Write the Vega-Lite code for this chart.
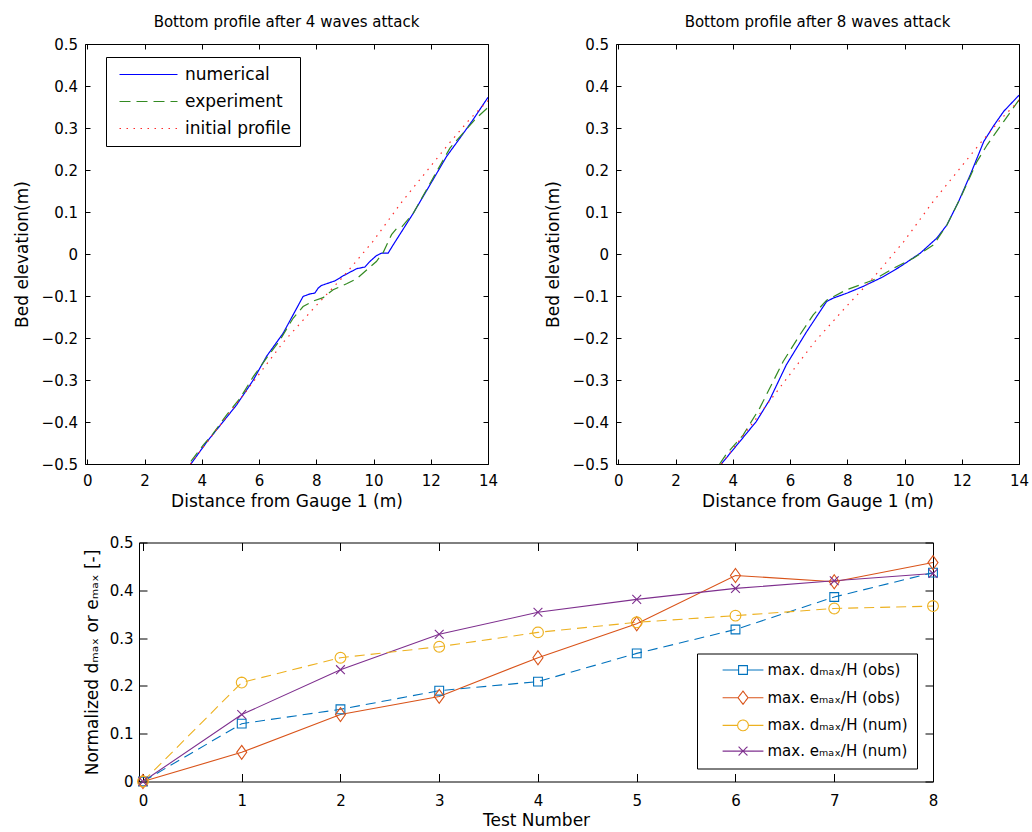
{
  "$schema": "https://vega.github.io/schema/vega-lite/v6.json",
  "padding": {"left": 12, "top": 14, "right": 5, "bottom": 5},
  "spacing": 24.5,
  "datasets": {
    "waves4": [
      {"x": 3.62, "y": -0.5, "series": "numerical"},
      {"x": 4.17, "y": -0.448, "series": "numerical"},
      {"x": 4.75, "y": -0.399, "series": "numerical"},
      {"x": 5.22, "y": -0.359, "series": "numerical"},
      {"x": 5.8, "y": -0.3, "series": "numerical"},
      {"x": 6.26, "y": -0.244, "series": "numerical"},
      {"x": 6.84, "y": -0.189, "series": "numerical"},
      {"x": 7.19, "y": -0.145, "series": "numerical"},
      {"x": 7.54, "y": -0.101, "series": "numerical"},
      {"x": 7.78, "y": -0.095, "series": "numerical"},
      {"x": 7.95, "y": -0.093, "series": "numerical"},
      {"x": 8.07, "y": -0.081, "series": "numerical"},
      {"x": 8.18, "y": -0.075, "series": "numerical"},
      {"x": 8.65, "y": -0.064, "series": "numerical"},
      {"x": 8.94, "y": -0.052, "series": "numerical"},
      {"x": 9.41, "y": -0.035, "series": "numerical"},
      {"x": 9.7, "y": -0.031, "series": "numerical"},
      {"x": 9.87, "y": -0.018, "series": "numerical"},
      {"x": 10.1, "y": -0.004, "series": "numerical"},
      {"x": 10.28, "y": 0.002, "series": "numerical"},
      {"x": 10.51, "y": 0.002, "series": "numerical"},
      {"x": 10.69, "y": 0.022, "series": "numerical"},
      {"x": 11.39, "y": 0.097, "series": "numerical"},
      {"x": 12.08, "y": 0.177, "series": "numerical"},
      {"x": 12.55, "y": 0.232, "series": "numerical"},
      {"x": 13.02, "y": 0.276, "series": "numerical"},
      {"x": 13.48, "y": 0.32, "series": "numerical"},
      {"x": 14.0, "y": 0.373, "series": "numerical"},
      {"x": 3.62, "y": -0.494, "series": "experiment"},
      {"x": 4.05, "y": -0.455, "series": "experiment"},
      {"x": 4.4, "y": -0.427, "series": "experiment"},
      {"x": 4.87, "y": -0.383, "series": "experiment"},
      {"x": 5.33, "y": -0.344, "series": "experiment"},
      {"x": 5.8, "y": -0.292, "series": "experiment"},
      {"x": 6.26, "y": -0.248, "series": "experiment"},
      {"x": 6.73, "y": -0.205, "series": "experiment"},
      {"x": 7.19, "y": -0.153, "series": "experiment"},
      {"x": 7.54, "y": -0.125, "series": "experiment"},
      {"x": 7.89, "y": -0.112, "series": "experiment"},
      {"x": 8.24, "y": -0.104, "series": "experiment"},
      {"x": 8.59, "y": -0.085, "series": "experiment"},
      {"x": 9.06, "y": -0.071, "series": "experiment"},
      {"x": 9.41, "y": -0.059, "series": "experiment"},
      {"x": 9.76, "y": -0.038, "series": "experiment"},
      {"x": 10.1, "y": -0.018, "series": "experiment"},
      {"x": 10.34, "y": 0.004, "series": "experiment"},
      {"x": 10.63, "y": 0.046, "series": "experiment"},
      {"x": 10.8, "y": 0.06, "series": "experiment"},
      {"x": 10.98, "y": 0.064, "series": "experiment"},
      {"x": 11.39, "y": 0.097, "series": "experiment"},
      {"x": 12.08, "y": 0.181, "series": "experiment"},
      {"x": 12.67, "y": 0.252, "series": "experiment"},
      {"x": 13.13, "y": 0.288, "series": "experiment"},
      {"x": 13.6, "y": 0.324, "series": "experiment"},
      {"x": 14.0, "y": 0.349, "series": "experiment"},
      {"x": 3.6, "y": -0.5, "series": "initial profile"},
      {"x": 5.4, "y": -0.34, "series": "initial profile"},
      {"x": 6.85, "y": -0.21, "series": "initial profile"},
      {"x": 7.9, "y": -0.13, "series": "initial profile"},
      {"x": 8.94, "y": -0.054, "series": "initial profile"},
      {"x": 9.98, "y": 0.03, "series": "initial profile"},
      {"x": 11.0, "y": 0.125, "series": "initial profile"},
      {"x": 11.95, "y": 0.205, "series": "initial profile"},
      {"x": 12.6, "y": 0.26, "series": "initial profile"},
      {"x": 13.35, "y": 0.32, "series": "initial profile"},
      {"x": 14.0, "y": 0.365, "series": "initial profile"}
    ],
    "waves8": [
      {"x": 3.6, "y": -0.5, "series": "numerical"},
      {"x": 4.24, "y": -0.447, "series": "numerical"},
      {"x": 4.82, "y": -0.399, "series": "numerical"},
      {"x": 5.29, "y": -0.347, "series": "numerical"},
      {"x": 5.87, "y": -0.264, "series": "numerical"},
      {"x": 6.58, "y": -0.185, "series": "numerical"},
      {"x": 7.28, "y": -0.113, "series": "numerical"},
      {"x": 7.51, "y": -0.105, "series": "numerical"},
      {"x": 8.0, "y": -0.093, "series": "numerical"},
      {"x": 8.56, "y": -0.077, "series": "numerical"},
      {"x": 9.26, "y": -0.054, "series": "numerical"},
      {"x": 9.85, "y": -0.03, "series": "numerical"},
      {"x": 10.55, "y": 0.002, "series": "numerical"},
      {"x": 11.13, "y": 0.038, "series": "numerical"},
      {"x": 11.48, "y": 0.069, "series": "numerical"},
      {"x": 11.89, "y": 0.125, "series": "numerical"},
      {"x": 12.3, "y": 0.189, "series": "numerical"},
      {"x": 12.77, "y": 0.268, "series": "numerical"},
      {"x": 13.12, "y": 0.306, "series": "numerical"},
      {"x": 13.47, "y": 0.34, "series": "numerical"},
      {"x": 14.0, "y": 0.378, "series": "numerical"},
      {"x": 3.54, "y": -0.5, "series": "experiment"},
      {"x": 3.77, "y": -0.477, "series": "experiment"},
      {"x": 4.36, "y": -0.431, "series": "experiment"},
      {"x": 4.94, "y": -0.367, "series": "experiment"},
      {"x": 5.76, "y": -0.256, "series": "experiment"},
      {"x": 6.34, "y": -0.193, "series": "experiment"},
      {"x": 6.81, "y": -0.145, "series": "experiment"},
      {"x": 7.28, "y": -0.11, "series": "experiment"},
      {"x": 7.98, "y": -0.085, "series": "experiment"},
      {"x": 8.91, "y": -0.062, "series": "experiment"},
      {"x": 9.61, "y": -0.034, "series": "experiment"},
      {"x": 10.31, "y": -0.01, "series": "experiment"},
      {"x": 11.02, "y": 0.022, "series": "experiment"},
      {"x": 11.48, "y": 0.069, "series": "experiment"},
      {"x": 11.95, "y": 0.133, "series": "experiment"},
      {"x": 12.53, "y": 0.22, "series": "experiment"},
      {"x": 12.89, "y": 0.26, "series": "experiment"},
      {"x": 13.47, "y": 0.316, "series": "experiment"},
      {"x": 14.0, "y": 0.367, "series": "experiment"},
      {"x": 3.6, "y": -0.5, "series": "initial profile"},
      {"x": 5.4, "y": -0.34, "series": "initial profile"},
      {"x": 6.85, "y": -0.21, "series": "initial profile"},
      {"x": 7.9, "y": -0.13, "series": "initial profile"},
      {"x": 8.94, "y": -0.054, "series": "initial profile"},
      {"x": 9.98, "y": 0.03, "series": "initial profile"},
      {"x": 11.0, "y": 0.125, "series": "initial profile"},
      {"x": 11.95, "y": 0.205, "series": "initial profile"},
      {"x": 12.6, "y": 0.26, "series": "initial profile"},
      {"x": 13.35, "y": 0.32, "series": "initial profile"},
      {"x": 14.0, "y": 0.365, "series": "initial profile"}
    ],
    "tests": [
      {"test": 0, "value": 0, "series": "dobs"},
      {"test": 1, "value": 0.121, "series": "dobs"},
      {"test": 2, "value": 0.151, "series": "dobs"},
      {"test": 3, "value": 0.19, "series": "dobs"},
      {"test": 4, "value": 0.209, "series": "dobs"},
      {"test": 5, "value": 0.268, "series": "dobs"},
      {"test": 6, "value": 0.318, "series": "dobs"},
      {"test": 7, "value": 0.386, "series": "dobs"},
      {"test": 8, "value": 0.437, "series": "dobs"},
      {"test": 0, "value": 0, "series": "eobs"},
      {"test": 1, "value": 0.061, "series": "eobs"},
      {"test": 2, "value": 0.14, "series": "eobs"},
      {"test": 3, "value": 0.178, "series": "eobs"},
      {"test": 4, "value": 0.259, "series": "eobs"},
      {"test": 5, "value": 0.33, "series": "eobs"},
      {"test": 6, "value": 0.431, "series": "eobs"},
      {"test": 7, "value": 0.418, "series": "eobs"},
      {"test": 8, "value": 0.458, "series": "eobs"},
      {"test": 0, "value": 0, "series": "dnum"},
      {"test": 1, "value": 0.207, "series": "dnum"},
      {"test": 2, "value": 0.259, "series": "dnum"},
      {"test": 3, "value": 0.282, "series": "dnum"},
      {"test": 4, "value": 0.312, "series": "dnum"},
      {"test": 5, "value": 0.333, "series": "dnum"},
      {"test": 6, "value": 0.347, "series": "dnum"},
      {"test": 7, "value": 0.362, "series": "dnum"},
      {"test": 8, "value": 0.367, "series": "dnum"},
      {"test": 0, "value": 0, "series": "enum"},
      {"test": 1, "value": 0.14, "series": "enum"},
      {"test": 2, "value": 0.234, "series": "enum"},
      {"test": 3, "value": 0.308, "series": "enum"},
      {"test": 4, "value": 0.354, "series": "enum"},
      {"test": 5, "value": 0.381, "series": "enum"},
      {"test": 6, "value": 0.404, "series": "enum"},
      {"test": 7, "value": 0.42, "series": "enum"},
      {"test": 8, "value": 0.435, "series": "enum"}
    ]
  },
  "vconcat": [
    {
      "hconcat": [
        {
          "width": 403,
          "height": 420,
          "title": {"text": "Bottom profile after 4 waves attack", "offset": 7},
          "data": {"name": "waves4"},
          "layer": [
            {
              "mark": {"type": "line", "strokeWidth": 1.2, "clip": true},
              "encoding": {
                "x": {"field": "x", "type": "quantitative", "scale": {"domain": [-0.08, 14], "nice": false, "zero": false},
                  "axis": {"orient": "bottom", "values": [0, 2, 4, 6, 8, 10, 12, 14], "title": "Distance from Gauge 1 (m)", "tickSize": -5, "labelPadding": 14, "titlePadding": 5}},
                "y": {"field": "y", "type": "quantitative", "scale": {"domain": [-0.5, 0.5], "nice": false, "zero": false},
                  "axis": {"orient": "left", "values": [-0.5, -0.4, -0.3, -0.2, -0.1, 0, 0.1, 0.2, 0.3, 0.4, 0.5], "format": ".1~f", "title": "Bed elevation(m)", "tickSize": -5, "labelPadding": 12.5, "titlePadding": 10}},
                "color": {"field": "series", "type": "nominal",
                  "scale": {"domain": ["numerical", "experiment", "initial profile"], "range": ["#0000ff", "#338a22", "#ff2a2a"]},
                  "legend": {"orient": "none", "legendX": 21, "legendY": 13, "title": null, "symbolType": "M-5.8,0L5.8,0", "symbolSize": 100, "symbolStrokeWidth": 1.2, "symbolOffset": 25, "labelOffset": 28, "labelFontSize": 17, "labelFont": "DejaVu Sans", "labelColor": "black", "padding": 9, "rowPadding": 9, "strokeColor": "black", "fillColor": "white"}},
                "strokeDash": {"field": "series", "type": "nominal",
                  "scale": {"domain": ["numerical", "experiment", "initial profile"], "range": [[1, 0], [11, 6], [1.5, 5.5]]}}
              }
            },
            {
              "mark": {"type": "line", "opacity": 0},
              "encoding": {
                "x": {"field": "x", "type": "quantitative", "axis": {"orient": "top", "values": [0, 2, 4, 6, 8, 10, 12, 14], "labels": false, "title": null, "tickSize": -5}},
                "y": {"field": "y", "type": "quantitative", "axis": {"orient": "right", "values": [-0.5, -0.4, -0.3, -0.2, -0.1, 0, 0.1, 0.2, 0.3, 0.4, 0.5], "labels": false, "title": null, "tickSize": -5}}
              }
            }
          ],
          "resolve": {"axis": {"x": "independent", "y": "independent"}}
        },
        {
          "width": 403,
          "height": 420,
          "title": {"text": "Bottom profile after 8 waves attack", "offset": 7},
          "data": {"name": "waves8"},
          "layer": [
            {
              "mark": {"type": "line", "strokeWidth": 1.2, "clip": true},
              "encoding": {
                "x": {"field": "x", "type": "quantitative", "scale": {"domain": [-0.08, 14], "nice": false, "zero": false},
                  "axis": {"orient": "bottom", "values": [0, 2, 4, 6, 8, 10, 12, 14], "title": "Distance from Gauge 1 (m)", "tickSize": -5, "labelPadding": 14, "titlePadding": 5}},
                "y": {"field": "y", "type": "quantitative", "scale": {"domain": [-0.5, 0.5], "nice": false, "zero": false},
                  "axis": {"orient": "left", "values": [-0.5, -0.4, -0.3, -0.2, -0.1, 0, 0.1, 0.2, 0.3, 0.4, 0.5], "format": ".1~f", "title": "Bed elevation(m)", "tickSize": -5, "labelPadding": 12.5, "titlePadding": 10}},
                "color": {"field": "series", "type": "nominal",
                  "scale": {"domain": ["numerical", "experiment", "initial profile"], "range": ["#0000ff", "#338a22", "#ff2a2a"]},
                  "legend": null},
                "strokeDash": {"field": "series", "type": "nominal",
                  "scale": {"domain": ["numerical", "experiment", "initial profile"], "range": [[1, 0], [11, 6], [1.5, 5.5]]},
                  "legend": null}
              }
            },
            {
              "mark": {"type": "line", "opacity": 0},
              "encoding": {
                "x": {"field": "x", "type": "quantitative", "axis": {"orient": "top", "values": [0, 2, 4, 6, 8, 10, 12, 14], "labels": false, "title": null, "tickSize": -5}},
                "y": {"field": "y", "type": "quantitative", "axis": {"orient": "right", "values": [-0.5, -0.4, -0.3, -0.2, -0.1, 0, 0.1, 0.2, 0.3, 0.4, 0.5], "labels": false, "title": null, "tickSize": -5}}
              }
            }
          ],
          "resolve": {"axis": {"x": "independent", "y": "independent"}}
        }
      ],
      "spacing": 128,
      "bounds": "flush",
      "resolve": {"scale": {"color": "independent", "strokeDash": "independent"}}
    },
    {
      "hconcat": [
        {
          "width": 44,
          "height": 10,
          "view": {"stroke": null},
          "data": {"values": []},
          "mark": "text",
          "encoding": {}
        },
        {
          "width": 794,
          "height": 239,
          "data": {"name": "tests"},
          "layer": [
            {
              "transform": [{"filter": {"field": "series", "oneOf": ["eobs", "enum"]}}],
              "mark": {"type": "line", "strokeWidth": 1.1},
              "encoding": {
                "x": {"field": "test", "type": "quantitative", "scale": {"domain": [-0.04, 8], "nice": false, "zero": false},
                  "axis": {"orient": "bottom", "values": [0, 1, 2, 3, 4, 5, 6, 7, 8], "title": "Test Number", "tickSize": -8, "labelPadding": 20, "titlePadding": 4}},
                "y": {"field": "value", "type": "quantitative", "scale": {"domain": [0, 0.5], "nice": false},
                  "axis": {"orient": "left", "values": [0, 0.1, 0.2, 0.3, 0.4, 0.5], "format": ".1~f", "title": "Normalized dₘₐₓ or eₘₐₓ [-]", "tickSize": -8, "labelPadding": 14, "titlePadding": 8}},
                "color": {"field": "series", "type": "nominal",
                  "scale": {"domain": ["dobs", "eobs", "dnum", "enum"], "range": ["#0072BD", "#D95319", "#EDB120", "#7E2F8E"]},
                  "legend": {"orient": "none", "legendX": 558, "legendY": 111, "title": null,
                    "labelExpr": "datum.value == 'dobs' ? 'max. dₘₐₓ/H (obs)\u00a0\u00a0\u00a0' : datum.value == 'eobs' ? 'max. eₘₐₓ/H (obs)\u00a0\u00a0\u00a0' : datum.value == 'dnum' ? 'max. dₘₐₓ/H (num)\u00a0\u00a0\u00a0' : 'max. eₘₐₓ/H (num)\u00a0\u00a0\u00a0'",
                    "labelFontSize": 15, "labelFont": "DejaVu Sans", "labelColor": "black", "padding": 9, "rowPadding": 9.7,
                    "symbolOffset": 29.5, "labelOffset": 17, "symbolStrokeWidth": 1.1, "symbolSize": 64, "symbolFillColor": "transparent", "symbolDash": [1, 0],
                    "symbolType": {"expr": "datum.value == 'dobs' ? 'M-5.1,0L-1.1,0M1.1,0L5.1,0M-1.1,-1.1L1.1,-1.1L1.1,1.1L-1.1,1.1Z' : datum.value == 'eobs' ? 'M-5.1,0L-1.25,0M1.25,0L5.1,0M0,-1.65L1.25,0L0,1.65L-1.25,0Z' : datum.value == 'dnum' ? 'M-5.1,0L-1.35,0M1.35,0L5.1,0M1.35,0L1.247,0.517L0.955,0.955L0.517,1.247L0,1.35L-0.517,1.247L-0.955,0.955L-1.247,0.517L-1.35,0L-1.247,-0.517L-0.955,-0.955L-0.517,-1.247L0,-1.35L0.517,-1.247L0.955,-0.955L1.247,-0.517Z' : 'M-5.1,0L5.1,0M-1.1,-1.1L1.1,1.1M-1.1,1.1L1.1,-1.1'"},
                    "strokeColor": "black", "fillColor": "white"}}
              }
            },
            {
              "transform": [{"filter": {"field": "series", "oneOf": ["dobs", "dnum"]}}],
              "mark": {"type": "line", "strokeWidth": 1.1, "strokeDash": [10, 6]},
              "encoding": {
                "x": {"field": "test", "type": "quantitative", "axis": null},
                "y": {"field": "value", "type": "quantitative", "axis": null},
                "color": {"field": "series", "type": "nominal", "legend": null}
              }
            },
            {
              "transform": [{"filter": {"field": "series", "equal": "dobs"}}],
              "mark": {"type": "point", "filled": false, "size": 64, "strokeWidth": 1.1, "opacity": 1, "shape": "M-1.1,-1.1L1.1,-1.1L1.1,1.1L-1.1,1.1Z"},
              "encoding": {
                "x": {"field": "test", "type": "quantitative", "axis": null},
                "y": {"field": "value", "type": "quantitative", "axis": null},
                "color": {"field": "series", "type": "nominal", "legend": null}
              }
            },
            {
              "transform": [{"filter": {"field": "series", "equal": "eobs"}}],
              "mark": {"type": "point", "filled": false, "size": 64, "strokeWidth": 1.1, "opacity": 1, "shape": "M0,-1.75L1.25,0L0,1.75L-1.25,0Z"},
              "encoding": {
                "x": {"field": "test", "type": "quantitative", "axis": null},
                "y": {"field": "value", "type": "quantitative", "axis": null},
                "color": {"field": "series", "type": "nominal", "legend": null}
              }
            },
            {
              "transform": [{"filter": {"field": "series", "equal": "dnum"}}],
              "mark": {"type": "point", "filled": false, "size": 64, "strokeWidth": 1.1, "opacity": 1, "shape": "M1.35,0L1.247,0.517L0.955,0.955L0.517,1.247L0,1.35L-0.517,1.247L-0.955,0.955L-1.247,0.517L-1.35,0L-1.247,-0.517L-0.955,-0.955L-0.517,-1.247L0,-1.35L0.517,-1.247L0.955,-0.955L1.247,-0.517Z"},
              "encoding": {
                "x": {"field": "test", "type": "quantitative", "axis": null},
                "y": {"field": "value", "type": "quantitative", "axis": null},
                "color": {"field": "series", "type": "nominal", "legend": null}
              }
            },
            {
              "transform": [{"filter": {"field": "series", "equal": "enum"}}],
              "mark": {"type": "point", "filled": false, "size": 64, "strokeWidth": 1.1, "opacity": 1, "shape": "M-1.1,-1.1L1.1,1.1M-1.1,1.1L1.1,-1.1"},
              "encoding": {
                "x": {"field": "test", "type": "quantitative", "axis": null},
                "y": {"field": "value", "type": "quantitative", "axis": null},
                "color": {"field": "series", "type": "nominal", "legend": null}
              }
            },
            {
              "mark": {"type": "line", "opacity": 0},
              "encoding": {
                "x": {"field": "test", "type": "quantitative", "axis": {"orient": "top", "values": [0, 1, 2, 3, 4, 5, 6, 7, 8], "labels": false, "title": null, "tickSize": -8}},
                "y": {"field": "value", "type": "quantitative", "axis": {"orient": "right", "values": [0, 0.1, 0.2, 0.3, 0.4, 0.5], "labels": false, "title": null, "tickSize": -8}}
              }
            }
          ],
          "resolve": {"axis": {"x": "independent", "y": "independent"}}
        }
      ],
      "spacing": 10,
      "bounds": "flush",
      "resolve": {"scale": {"color": "independent"}}
    }
  ],
  "resolve": {"scale": {"color": "independent", "strokeDash": "independent"}},
  "config": {
    "background": "white",
    "font": "DejaVu Sans",
    "view": {"stroke": "black", "strokeWidth": 1},
    "axis": {"domain": false, "grid": false, "tickColor": "black", "tickWidth": 1, "labelColor": "black", "titleColor": "black",
      "labelFont": "DejaVu Sans", "titleFont": "DejaVu Sans", "labelFontSize": 15, "titleFontSize": 17, "titleFontWeight": "normal",
      "labelFlush": false, "labelOverlap": false},
    "title": {"font": "DejaVu Sans", "fontSize": 15, "fontWeight": "normal", "color": "black"}
  }
}
